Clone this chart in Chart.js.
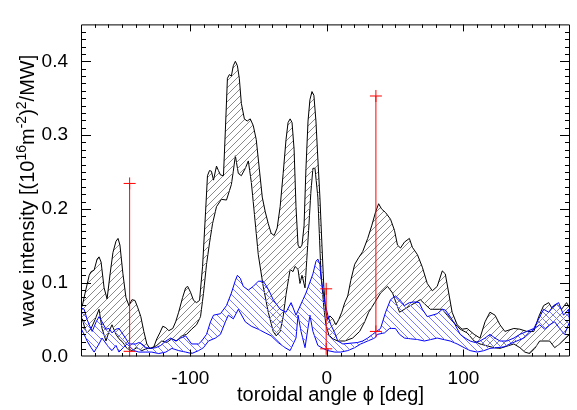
<!DOCTYPE html>
<html lang="en">
<head>
  <meta charset="UTF-8" />
  <title>wave intensity vs toroidal angle</title>
  <script src="https://cdn.jsdelivr.net/npm/chart.js"></script>
  <style>
    body { margin: 0; background: #fff; }
    #wrap { width: 577px; height: 410px; }
  </style>
</head>
<body>
  <div id="wrap"><canvas id="chart" width="577" height="410"></canvas></div>

  <script>
    // black band (upper / lower envelope), toroidal angle in deg
    const blackUpperX = [-180, -179, -177, -174, -172.6, -170.4, -168.2, -166.8, -165.3, -163.1, -160.9, -158.7, -156.6, -154.4, -152.9, -151.5, -149.3, -147.1, -144.9, -142.7, -140.5, -138.4, -136.2, -134, -131.8, -129.6, -126.7, -124.5, -122.3, -120.1, -117.9, -115.7, -112.8, -110.7, -108.5, -105.6, -103.4, -101.9, -99.8, -97.6, -95.4, -93.2, -91, -88.8, -87.4, -85.9, -84.5, -83, -80.8, -79.4, -77.9, -75.7, -74.3, -72.8, -71.4, -69.9, -68.5, -67, -65.5, -64.1, -62.6, -60.4, -58.3, -56.1, -53.9, -51.7, -49.5, -47.3, -45.1, -42.9, -40.8, -38.6, -36.4, -34.2, -32, -29.9, -28.4, -26.9, -25.5, -24, -22.6, -21.1, -19.7, -18.2, -16.7, -15.3, -13.8, -12.4, -10.9, -9.5, -8, -6.6, -5.1, -3.6, -2.2, -0.7, 0.7, 2.2, 4.4, 6.6, 8.7, 10.9, 13.1, 15.3, 17.5, 20.4, 23.3, 26.2, 29.9, 32.8, 35.7, 37.9, 40, 43, 46.6, 49.5, 51.7, 53.9, 56.8, 60.4, 62.6, 66.3, 69.9, 73.5, 77.2, 80.8, 84.5, 86.7, 89.6, 91.7, 95.4, 99, 102.7, 107.8, 112.1, 115.8, 119.4, 123.1, 126.7, 130.3, 136.9, 141.3, 146.4, 151.5, 155.1, 158.7, 162.4, 164.6, 168.2, 171.8, 175.5, 177.7];
    const blackUpperY = [0.066, 0.069, 0.086, 0.110, 0.115, 0.117, 0.132, 0.135, 0.128, 0.093, 0.078, 0.112, 0.141, 0.156, 0.160, 0.151, 0.112, 0.080, 0.069, 0.077, 0.076, 0.066, 0.054, 0.034, 0.017, 0.011, 0.013, 0.024, 0.032, 0.041, 0.039, 0.035, 0.038, 0.047, 0.060, 0.080, 0.093, 0.095, 0.087, 0.076, 0.073, 0.076, 0.122, 0.196, 0.245, 0.252, 0.251, 0.239, 0.258, 0.252, 0.246, 0.245, 0.307, 0.377, 0.382, 0.380, 0.394, 0.400, 0.394, 0.377, 0.343, 0.322, 0.319, 0.322, 0.313, 0.294, 0.255, 0.216, 0.196, 0.180, 0.167, 0.164, 0.174, 0.203, 0.248, 0.294, 0.317, 0.322, 0.317, 0.281, 0.203, 0.151, 0.147, 0.151, 0.177, 0.255, 0.319, 0.348, 0.359, 0.354, 0.319, 0.268, 0.216, 0.151, 0.093, 0.060, 0.050, 0.055, 0.051, 0.043, 0.050, 0.060, 0.073, 0.082, 0.103, 0.125, 0.134, 0.142, 0.160, 0.177, 0.196, 0.207, 0.200, 0.195, 0.186, 0.171, 0.151, 0.147, 0.155, 0.160, 0.148, 0.138, 0.121, 0.099, 0.089, 0.095, 0.116, 0.112, 0.082, 0.060, 0.043, 0.037, 0.038, 0.030, 0.025, 0.047, 0.060, 0.056, 0.043, 0.034, 0.038, 0.037, 0.034, 0.034, 0.054, 0.069, 0.073, 0.066, 0.071, 0.064, 0.073, 0.066];

    const blackLowerX = [-180, -179, -177, -175.5, -172.6, -169.7, -166.8, -164.6, -161.7, -159.5, -157.3, -154.4, -152.2, -149.3, -146.4, -142.7, -139.1, -135.4, -131.8, -128.2, -124.5, -120.9, -117.2, -113.5, -109.9, -106.3, -102.7, -99, -95.4, -92.5, -90.3, -88.1, -85.9, -83.7, -80.8, -77.2, -73.5, -69.9, -68.5, -67, -64.8, -62.6, -59.7, -57.5, -55.3, -53.2, -50.2, -46.6, -42.9, -39.3, -37.1, -34.2, -32, -29.9, -26.9, -24.8, -23.3, -21.1, -19.7, -18.2, -16, -13.8, -11.7, -10.2, -8.7, -6.6, -4.4, -2.2, -0.7, 1.5, 4.4, 8, 13.1, 18.9, 24, 27.7, 30.6, 35, 39.3, 44.4, 48.1, 53.2, 61.2, 68.4, 75.7, 84.5, 90.3, 97.6, 102.7, 107.8, 112.1, 122.3, 126.7, 136.9, 141.3, 144.9, 148.5, 152.2, 155.8, 163.1, 166.8, 170.4, 177.7];
    const blackLowerY = [0.045, 0.051, 0.037, 0.032, 0.038, 0.050, 0.064, 0.038, 0.021, 0.034, 0.043, 0.030, 0.024, 0.019, 0.011, 0.008, 0.012, 0.008, 0.011, 0.011, 0.015, 0.021, 0.019, 0.024, 0.021, 0.028, 0.030, 0.037, 0.043, 0.054, 0.086, 0.125, 0.154, 0.180, 0.203, 0.213, 0.212, 0.233, 0.251, 0.272, 0.248, 0.245, 0.255, 0.265, 0.236, 0.196, 0.138, 0.095, 0.060, 0.034, 0.028, 0.034, 0.054, 0.084, 0.118, 0.115, 0.122, 0.118, 0.099, 0.110, 0.093, 0.158, 0.223, 0.255, 0.255, 0.216, 0.116, 0.066, 0.043, 0.029, 0.024, 0.021, 0.021, 0.025, 0.034, 0.047, 0.060, 0.073, 0.086, 0.095, 0.086, 0.060, 0.069, 0.077, 0.064, 0.064, 0.051, 0.037, 0.032, 0.021, 0.017, 0.012, 0.011, 0.017, 0.012, 0.006, 0.004, 0.011, 0.021, 0.021, 0.012, 0.017, 0.030];

    // blue band
    const blueUpperX = [-180, -177.7, -175.5, -174, -171.8, -168.9, -166.8, -164.6, -161.7, -159.5, -157.3, -154.4, -152.2, -150, -147.1, -144.9, -139.8, -137.6, -135.4, -132.5, -128.9, -125.2, -121.6, -117.9, -114.3, -110.7, -107, -103.4, -99, -93.9, -91.7, -88.1, -85.2, -83, -77.9, -73.5, -69.9, -67, -65.5, -63.4, -61.2, -57.5, -53.9, -50.2, -46.6, -44.4, -41.5, -39.3, -34.2, -29.9, -26.2, -22.6, -17.5, -15.3, -10.2, -8, -6.6, -5.1, -4.4, -1.5, 0.7, 2.9, 5.8, 8, 11.7, 22.6, 26.2, 29.9, 33.5, 39.3, 43, 46.6, 50.2, 53.2, 56.8, 60.4, 64.1, 67.7, 69.9, 73.5, 80.8, 84.5, 86.7, 90.3, 93.9, 97.6, 101.2, 104.9, 108.5, 112.1, 115.8, 119.4, 123.1, 126.7, 131.8, 136.9, 141.3, 146.4, 151.5, 155.1, 158.7, 162.4, 166, 169.7, 173.3, 176.9, 177.7];
    const blueUpperY = [0.066, 0.064, 0.050, 0.043, 0.034, 0.047, 0.054, 0.047, 0.037, 0.038, 0.032, 0.037, 0.038, 0.032, 0.024, 0.017, 0.017, 0.019, 0.017, 0.012, 0.011, 0.012, 0.015, 0.021, 0.025, 0.021, 0.025, 0.028, 0.017, 0.017, 0.021, 0.030, 0.047, 0.056, 0.058, 0.069, 0.086, 0.103, 0.110, 0.106, 0.095, 0.090, 0.095, 0.102, 0.102, 0.096, 0.086, 0.077, 0.064, 0.060, 0.073, 0.056, 0.077, 0.086, 0.112, 0.129, 0.132, 0.125, 0.108, 0.073, 0.056, 0.043, 0.032, 0.021, 0.017, 0.019, 0.021, 0.025, 0.030, 0.038, 0.060, 0.077, 0.082, 0.077, 0.069, 0.073, 0.074, 0.073, 0.064, 0.054, 0.058, 0.064, 0.063, 0.054, 0.043, 0.030, 0.025, 0.021, 0.019, 0.021, 0.025, 0.030, 0.025, 0.021, 0.021, 0.025, 0.030, 0.034, 0.038, 0.051, 0.064, 0.060, 0.069, 0.073, 0.056, 0.064, 0.047];

    const blueLowerX = [-180, -177.7, -175.5, -172.6, -170.4, -166.8, -164.6, -159.5, -157.3, -154.4, -152.2, -146.4, -141.2, -137.6, -132.5, -128.2, -123.1, -117.9, -113.5, -108.5, -103.4, -99, -93.9, -90.3, -86.7, -81.6, -77.9, -74.3, -72.1, -68.5, -64.8, -59.7, -55.3, -50.2, -45.1, -40.8, -35.7, -30.6, -26.9, -22.6, -21.1, -18.9, -16, -12.4, -10.2, -6.6, -2.9, 0.7, 5.8, 10.2, 15.3, 20.4, 24.8, 29.9, 35, 37.1, 42.2, 45.9, 50.2, 53.2, 56.8, 61.2, 66.3, 71.4, 80.8, 90.3, 95.4, 100.5, 104.9, 110, 115.1, 119.4, 124.5, 129.6, 134, 139.1, 144.2, 148.5, 152.2, 155.8, 159.5, 163.1, 166.8, 170.4, 174, 177.7];
    const blueLowerY = [0.038, 0.030, 0.021, 0.012, 0.006, 0.017, 0.025, 0.012, 0.008, 0.015, 0.006, 0.017, 0.008, 0.006, 0.006, 0.006, 0.004, 0.006, 0.011, 0.008, 0.006, 0.004, 0.008, 0.012, 0.021, 0.025, 0.030, 0.047, 0.056, 0.051, 0.064, 0.047, 0.041, 0.037, 0.032, 0.028, 0.019, 0.012, 0.008, 0.025, 0.056, 0.034, 0.012, 0.056, 0.034, 0.015, 0.011, 0.008, 0.006, 0.006, 0.008, 0.012, 0.017, 0.021, 0.025, 0.030, 0.032, 0.038, 0.038, 0.030, 0.025, 0.024, 0.023, 0.021, 0.025, 0.021, 0.017, 0.012, 0.008, 0.006, 0.008, 0.011, 0.012, 0.013, 0.017, 0.021, 0.025, 0.032, 0.038, 0.043, 0.037, 0.043, 0.047, 0.038, 0.030, 0.047];

    // red error bars: angle, low, high
    const barX = [-144.4, -0.5, 35.9];
    const barLow = [0.007, 0.0104, 0.034];
    const barHigh = [0.2345, 0.0917, 0.353];

    const xTicks = [-100, 0, 100];
    const yTicks = [0.0, 0.1, 0.2, 0.3, 0.4];
    const FONT = '"Liberation Sans", Arial, sans-serif';

    const canvas = document.getElementById("chart");
    const ctx = canvas.getContext("2d");

    function hatch(color, rising) {
      const s = 7;
      const c = document.createElement("canvas");
      c.width = s; c.height = s;
      const g = c.getContext("2d");
      g.strokeStyle = color;
      g.lineWidth = 1;
      g.beginPath();
      if (rising) {
        g.moveTo(-1, s + 1); g.lineTo(s + 1, -1);
        g.moveTo(-1, 1); g.lineTo(1, -1);
        g.moveTo(s - 1, s + 1); g.lineTo(s + 1, s - 1);
      } else {
        g.moveTo(-1, -1); g.lineTo(s + 1, s + 1);
        g.moveTo(s - 1, -1); g.lineTo(s + 1, 1);
        g.moveTo(-1, s - 1); g.lineTo(1, s + 1);
      }
      g.stroke();
      return ctx.createPattern(c, "repeat");
    }

    const pts = (xs, ys) => xs.map((x, i) => ({ x: x, y: ys[i] }));

    function curve(xs, ys, color, fill, bg) {
      return {
        data: pts(xs, ys),
        borderColor: color,
        borderWidth: 1,
        pointRadius: 0,
        showLine: true,
        tension: 0,
        fill: fill,
        backgroundColor: bg || "transparent",
      };
    }

    const bars = barX.map((x, i) => ({
      data: [{ x: x, y: barLow[i] }, { x: x, y: barHigh[i] }],
      borderColor: "#ff0000",
      borderWidth: 1,
      showLine: true,
      pointStyle: "cross",
      pointRadius: 6,
      pointBorderColor: "#ff0000",
      pointBorderWidth: 1,
      fill: false,
    }));

    // frame with inward ticks on all four sides
    const frame = {
      id: "frame",
      afterDatasetsDraw(chart) {
        const { ctx: c, chartArea: a, scales } = chart;
        const xs = scales.x, ys = scales.y;
        c.save();
        c.strokeStyle = "#000";
        c.lineWidth = 1;
        c.beginPath();
        c.rect(a.left + 0.5, a.top + 0.5, a.right - a.left - 1, a.bottom - a.top - 1);
        for (let v = -170; v <= 170; v += 10) {
          const p = Math.round(xs.getPixelForValue(v)) + 0.5;
          const len = v % 100 === 0 ? 7 : 3.5;
          c.moveTo(p, a.bottom); c.lineTo(p, a.bottom - len);
          c.moveTo(p, a.top); c.lineTo(p, a.top + len);
        }
        for (let k = 1; k <= 44; k++) {
          const p = Math.round(ys.getPixelForValue(k / 100)) + 0.5;
          const len = k % 10 === 0 ? 10 : 5;
          c.moveTo(a.left, p); c.lineTo(a.left + len, p);
          c.moveTo(a.right, p); c.lineTo(a.right - len, p);
        }
        c.stroke();
        c.restore();
      },
      afterDraw(chart) {
        const c = chart.ctx, a = chart.chartArea;
        c.save();
        c.fillStyle = "#000";
        c.font = "20px " + FONT;
        c.textAlign = "center";
        c.textBaseline = "alphabetic";
        c.fillText("toroidal angle \u03d5 [deg]", (a.left + a.right) / 2 + 5, 401);

        // y title with superscripts
        const parts = [
          ["wave intensity [(10", 0], ["16", 1], ["m", 0], ["-2", 1],
          [")", 0], ["2", 1], ["/MW]", 0],
        ];
        const big = "20px " + FONT, small = "14px " + FONT;
        let total = 0;
        parts.forEach(p => { c.font = p[1] ? small : big; total += c.measureText(p[0]).width; });
        c.translate(33.5, (a.top + a.bottom) / 2);
        c.rotate(-Math.PI / 2);
        c.textAlign = "left";
        let x = -total / 2;
        parts.forEach(p => {
          c.font = p[1] ? small : big;
          c.fillText(p[0], x, p[1] ? -8 : 0);
          x += c.measureText(p[0]).width;
        });
        c.restore();
      },
    };

    new Chart(ctx, {
      type: "scatter",
      data: {
        datasets: [
          ...bars,
          curve(blueUpperX, blueUpperY, "#0000ff", "+1", hatch("#7a7aff", false)),
          curve(blueLowerX, blueLowerY, "#0000ff", false),
          curve(blackUpperX, blackUpperY, "#000000", "+1", hatch("#8a8a8a", true)),
          curve(blackLowerX, blackLowerY, "#000000", false),
        ],
      },
      options: {
        responsive: false,
        animation: false,
        layout: { padding: { top: 10, right: 4, left: 0, bottom: 0 } },
        plugins: { legend: { display: false }, tooltip: { enabled: false } },
        scales: {
          x: {
            type: "linear",
            min: -180,
            max: 178,
            grid: { display: false, drawTicks: false },
            border: { display: false },
            ticks: { color: "#000", font: { family: FONT, size: 19 }, padding: 11, maxRotation: 0 },
            afterBuildTicks: s => { s.ticks = xTicks.map(v => ({ value: v })); },
            afterFit: s => { s.height = 53.5; },
          },
          y: {
            type: "linear",
            min: 0,
            max: 0.45,
            grid: { display: false, drawTicks: false },
            border: { display: false },
            ticks: { color: "#000", font: { family: FONT, size: 19 }, padding: 13, callback: v => v.toFixed(1) },
            afterBuildTicks: s => { s.ticks = yTicks.map(v => ({ value: v })); },
            afterFit: s => { s.width = 81; },
          },
        },
      },
      plugins: [frame],
    });
  </script>
</body>
</html>
